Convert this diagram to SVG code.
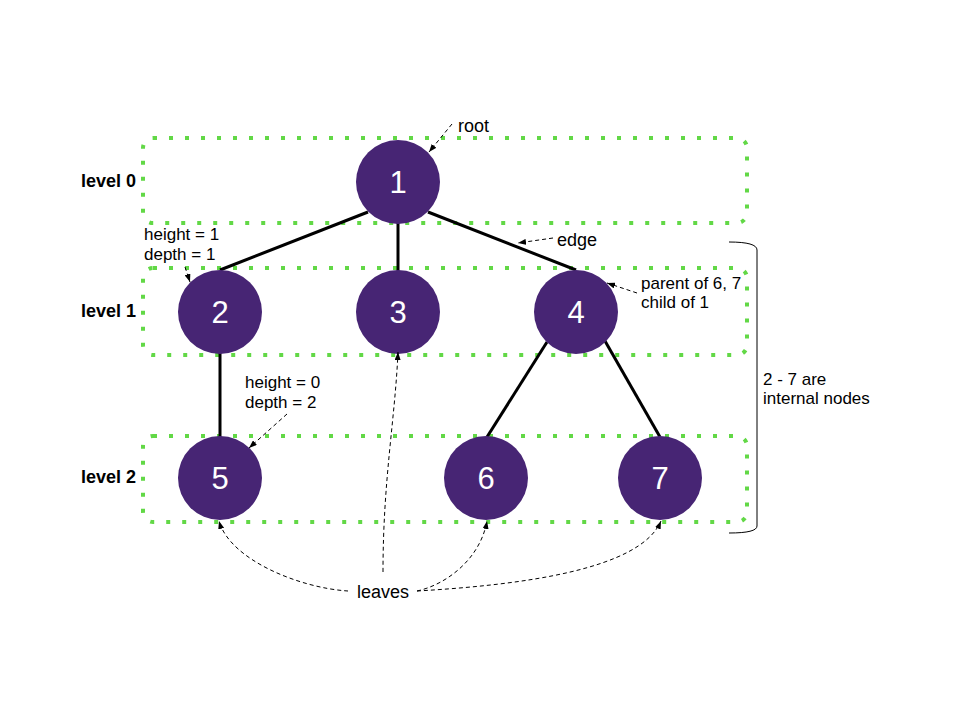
<svg xmlns="http://www.w3.org/2000/svg" width="960" height="720" viewBox="0 0 960 720">
<style>
.lvl{fill:none;stroke:#62d846;stroke-width:4;stroke-dasharray:4 12;}
.node{fill:#472574;}
.nt{font-family:"Liberation Sans",Arial,sans-serif;font-size:31px;fill:#ffffff;text-anchor:middle;}
.edge{stroke:#000;stroke-width:3;fill:none;}
.ann{stroke:#000;stroke-width:1;fill:none;stroke-dasharray:4 3;}
.t{font-family:"Liberation Sans",Arial,sans-serif;font-size:17px;fill:#000;}
.tl{font-family:"Liberation Sans",Arial,sans-serif;font-size:18px;fill:#000;}
.lb{font-family:"Liberation Sans",Arial,sans-serif;font-size:18px;font-weight:bold;fill:#000;}
</style>
<defs>
<marker id="ah" markerWidth="8" markerHeight="6" refX="8" refY="3" orient="auto" markerUnits="userSpaceOnUse">
<path d="M0,0 L8,3 L0,6 z" fill="#000"/>
</marker>
</defs>
<rect width="960" height="720" fill="#fff"/>
<g id="levels">
<rect class="lvl" x="143" y="138" width="604" height="85" rx="10"/>
<rect class="lvl" x="143" y="268" width="604" height="87" rx="10"/>
<rect class="lvl" x="143" y="436" width="604" height="86" rx="10"/>
<text class="lb" x="81" y="187">level 0</text>
<text class="lb" x="81" y="317">level 1</text>
<text class="lb" x="81" y="483">level 2</text>
</g>
<g id="connectors">
<line class="edge" x1="368" y1="212" x2="220" y2="270"/>
<line class="edge" x1="398" y1="220" x2="398" y2="272"/>
<line class="edge" x1="428" y1="212" x2="576" y2="270"/>
<line class="edge" x1="220" y1="350" x2="220" y2="437"/>
<line class="edge" x1="547" y1="342" x2="487" y2="437"/>
<line class="edge" x1="605" y1="341" x2="660" y2="437"/>
</g>
<g id="n1"><circle class="node" cx="398" cy="182" r="42"/><text class="nt" x="398" y="193">1</text></g>
<g id="n2"><circle class="node" cx="220" cy="312" r="42"/><text class="nt" x="220" y="323">2</text></g>
<g id="n3"><circle class="node" cx="398" cy="312" r="42"/><text class="nt" x="398" y="323">3</text></g>
<g id="n4"><circle class="node" cx="576" cy="312" r="42"/><text class="nt" x="576" y="323">4</text></g>
<g id="n5"><circle class="node" cx="220" cy="478" r="42"/><text class="nt" x="220" y="489">5</text></g>
<g id="n6"><circle class="node" cx="486" cy="478" r="42"/><text class="nt" x="486" y="489">6</text></g>
<g id="n7"><circle class="node" cx="660" cy="478" r="42"/><text class="nt" x="660" y="489">7</text></g>
<g id="annotations">
<text class="tl" x="458" y="132">root</text>
<path class="ann" d="M452,124 L429,152" marker-end="url(#ah)"/>
<text class="tl" x="557" y="246">edge</text>
<path class="ann" d="M553,238 L518,243" marker-end="url(#ah)"/>
<text class="t" x="144" y="240">height = 1</text>
<text class="t" x="144" y="260">depth = 1</text>
<path class="ann" d="M185,267 L190,282" marker-end="url(#ah)"/>
<text class="t" x="641" y="289">parent of 6, 7</text>
<text class="t" x="641" y="308">child of 1</text>
<path class="ann" d="M637,293 L607,283" marker-end="url(#ah)"/>
<text class="t" x="245" y="388">height = 0</text>
<text class="t" x="245" y="408">depth = 2</text>
<path class="ann" d="M287,414 L249,448" marker-end="url(#ah)"/>
<path d="M729,242 Q757,242 757,250 L757,526 Q757,533 729,533" fill="none" stroke="#000" stroke-width="1"/>
<text class="t" x="763" y="385">2 - 7 are</text>
<text class="t" x="763" y="404">internal nodes</text>
<text class="tl" x="383" y="598" text-anchor="middle">leaves</text>
<path class="ann" d="M348,591 C300,588 230,560 219,521" marker-end="url(#ah)"/>
<path class="ann" d="M383,572 C383,480 395,420 398,352" marker-end="url(#ah)"/>
<path class="ann" d="M417,591 C445,585 480,560 487,521" marker-end="url(#ah)"/>
<path class="ann" d="M417,591 C520,585 640,570 661,521" marker-end="url(#ah)"/>
</g>
</svg>
